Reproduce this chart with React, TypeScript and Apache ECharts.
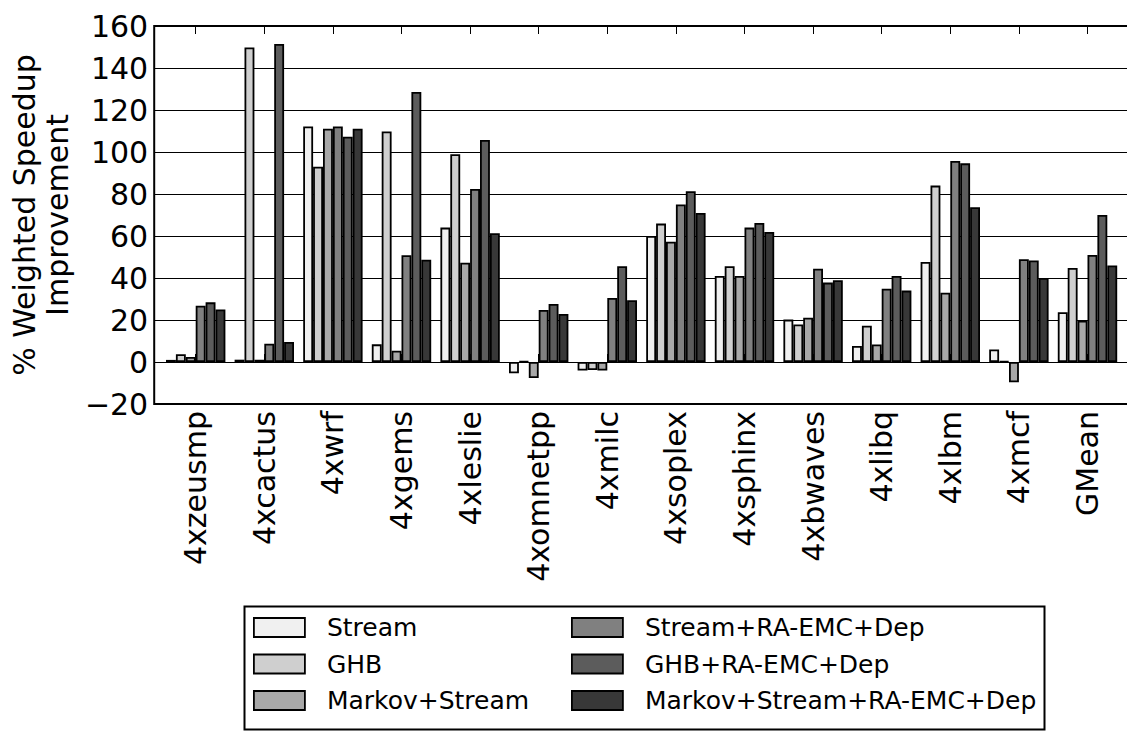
import React, { useEffect, useRef } from "react";
import * as echarts from "echarts";

const categories = [
  "4xzeusmp", "4xcactus", "4xwrf", "4xgems", "4xleslie", "4xomnetpp", "4xmilc",
  "4xsoplex", "4xsphinx", "4xbwaves", "4xlibq", "4xlbm", "4xmcf", "GMean",
];

const seriesNames = [
  "Stream", "GHB", "Markov+Stream",
  "Stream+RA-EMC+Dep", "GHB+RA-EMC+Dep", "Markov+Stream+RA-EMC+Dep",
];

const stream = [1.0, 1.1, 112.2, 8.4, 64.0, -5.4, -4.1, 60.0, 41.0, 20.2, 7.6, 47.6, 6.0, 23.7];
const ghb = [3.7, 149.8, 93.0, 109.8, 98.9, 0.3, -3.8, 65.9, 45.6, 17.9, 17.3, 84.0, 0.3, 44.8];
const markovStream = [2.4, 1.1, 111.1, 5.4, 47.3, -7.6, -4.1, 57.3, 41.0, 21.1, 8.3, 33.0, -9.7, 19.7];
const streamRa = [26.8, 8.7, 112.2, 50.8, 82.4, 24.8, 30.5, 75.0, 64.0, 44.4, 34.9, 95.7, 48.9, 51.0];
const ghbRa = [28.4, 151.4, 107.3, 128.6, 105.7, 27.6, 45.6, 81.3, 66.2, 37.8, 41.0, 94.6, 48.3, 70.0];
const markovStreamRa = [25.0, 9.5, 111.1, 48.7, 61.3, 22.9, 29.4, 71.0, 61.9, 38.9, 34.0, 73.7, 40.0, 46.0];

const allValues = [stream, ghb, markovStream, streamRa, ghbRa, markovStreamRa];
const colors = ["#f0f0f0", "#cfcfcf", "#a8a8a8", "#808080", "#5c5c5c", "#383838"];

const yTicks = { min: -20, max: 160, interval: 20 };
const FONT = "DejaVu Sans";

export default function App() {
  const ref = useRef<HTMLDivElement>(null);
  useEffect(() => {
    if (!ref.current) return;
    const chart = echarts.init(ref.current, null, { renderer: "svg" });
    const legendCommon = {
      orient: "vertical", top: 614.5, padding: 0,
      itemWidth: 51, itemHeight: 19, itemGap: 10.5, icon: "rect",
      itemStyle: { borderColor: "#000", borderWidth: 1.8 },
      textStyle: { fontSize: 25, lineHeight: 26, fontFamily: FONT, color: "#000", padding: [0, 0, 0, 17] },
    };
    const option: any = {
      animation: false,
      textStyle: { fontFamily: FONT, color: "#000" },
      grid: [
        { left: 154, top: 26, width: 976, height: 378, show: true, borderColor: "#000", borderWidth: 2, backgroundColor: "transparent" },
        { left: 161.4, top: 26, width: 960.4, height: 378 },
      ],
      xAxis: [
        { gridIndex: 0, type: "value", min: 0, max: 1, show: false },
        {
          gridIndex: 1, type: "category", data: categories, position: "bottom",
          axisLine: { show: false },
          axisTick: { show: true, inside: true, alignWithLabel: true, length: 8, interval: 0, lineStyle: { color: "#000", width: 1 } },
          axisLabel: { interval: 0, rotate: 90, fontSize: 30, margin: 7, color: "#000", fontFamily: FONT },
        },
        {
          gridIndex: 1, type: "category", data: categories, position: "top",
          axisLine: { show: false },
          axisTick: { show: true, inside: true, alignWithLabel: true, length: 8, interval: 0, lineStyle: { color: "#000", width: 1 } },
          axisLabel: { show: false },
        },
      ],
      yAxis: [
        {
          gridIndex: 0, type: "value", position: "left", ...yTicks,
          axisLine: { show: false },
          axisTick: { show: true, inside: true, length: 8, lineStyle: { color: "#000", width: 1 } },
          axisLabel: { fontSize: 30, margin: 6, color: "#000", fontFamily: FONT, formatter: (v: number) => String(v).replace("-", "\u2212") },
          splitLine: { show: true, lineStyle: { color: "#000", width: 1 } },
          name: "% Weighted Speedup\nImprovement",
          nameLocation: "middle",
          nameRotate: 90,
          nameGap: 77,
          nameTextStyle: { fontSize: 30, lineHeight: 33, color: "#000", fontFamily: FONT },
        },
        {
          gridIndex: 0, type: "value", position: "right", ...yTicks,
          axisLine: { show: false },
          axisTick: { show: true, inside: true, length: 8, lineStyle: { color: "#000", width: 1 } },
          axisLabel: { show: false },
          splitLine: { show: false },
        },
        { gridIndex: 1, type: "value", ...yTicks, show: false },
      ],
      legend: [
        { ...legendCommon, data: seriesNames.slice(0, 3), left: 253 },
        { ...legendCommon, data: seriesNames.slice(3), left: 571 },
      ],
      graphic: [
        { type: "rect", left: 242, top: 604, shape: { width: 800, height: 123 }, style: { fill: "none", stroke: "#000", lineWidth: 2 } },
      ],
      series: seriesNames.map((name, k) => ({
        name,
        type: "bar",
        xAxisIndex: 1,
        yAxisIndex: 2,
        data: allValues[k],
        barWidth: 9.9,
        barGap: "0%",
        itemStyle: { color: colors[k], borderColor: "#000", borderWidth: 1.8 },
      })),
    };
    chart.setOption(option);
    return () => chart.dispose();
  }, []);
  return <div ref={ref} style={{ width: 1135, height: 741, margin: -8 }} />;
}
